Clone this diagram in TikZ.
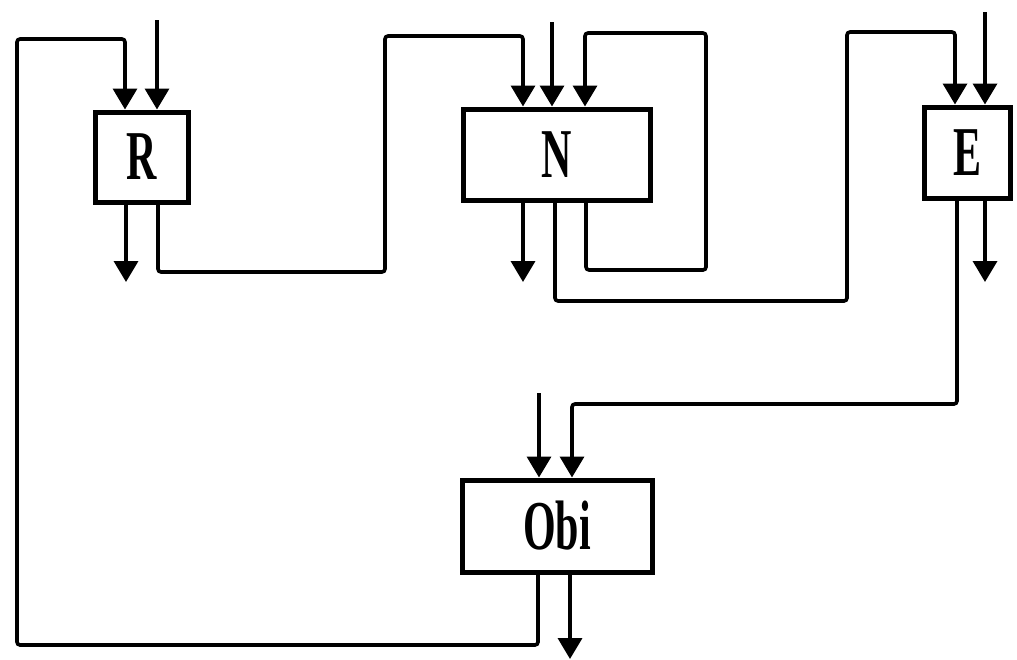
\documentclass[tikz,border=0pt]{standalone}
\usepackage{fontspec}
\usepackage{graphicx}
\setmainfont{Liberation Serif}
\usetikzlibrary{arrows.meta}
\tikzset{
  blk/.style={draw, line width=5pt, minimum width=#1, inner sep=0pt, font=\fontsize{70}{70}\selectfont\bfseries},
  wire/.style={line width=3.6pt, rounded corners=3pt},
  arr/.style={wire, -{Triangle[width=24pt,length=21pt]}}
}
\newcommand{\cond}[1]{\scalebox{0.6}[1]{#1}}
\begin{document}
\begin{tikzpicture}[x=1pt,y=-1pt]
\useasboundingbox (0,0) rectangle (1017,659);
\fill[white] (0,0) rectangle (1017,659);
% boxes
\node[blk=93pt, minimum height=90pt] (R) at (141.5,157) {\cond{R}};
\node[blk=187pt, minimum height=91pt] (N) at (556.5,154.5) {\cond{N}};
\node[blk=86pt, minimum height=91pt] (E) at (967,152.5) {\cond{E}};
\node[blk=190pt, minimum height=92pt] (O) at (557,526) {\cond{Obi}};
% free ends
\coordinate (Rin) at (157,20);
\coordinate (Rout) at (126,282);
\coordinate (Nin) at (552,22);
\coordinate (Nout) at (523,282);
\coordinate (Ein) at (985,12);
\coordinate (Eout) at (985,282);
\coordinate (Oin) at (539,393);
\coordinate (Oout) at (570,659);
% inputs / outputs
\draw[arr] (Rin) -- (Rin |- R.north);
\draw[arr] (Rout |- R.south) -- (Rout);
\draw[arr] (Nin) -- (Nin |- N.north);
\draw[arr] (Nout |- N.south) -- (Nout);
\draw[arr] (Ein) -- (Ein |- E.north);
\draw[arr] (Eout |- E.south) -- (Eout);
\draw[arr] (Oin) -- (Oin |- O.north);
\draw[arr] (Oout |- O.south) -- (Oout);
% feedback Obi -> R
\draw[arr] (O.south -| 538,0) -- (538,645) -- (17,645) -- (17,39) -- (125,39) -- (R.north -| 125,0);
% R -> N
\draw[arr] (R.south -| 158,0) -- (158,272) -- (385,272) -- (385,36) -- (523,36) -- (N.north -| 523,0);
% N self loop
\draw[arr] (N.south -| 586,0) -- (586,270) -- (706,270) -- (706,33) -- (585,33) -- (N.north -| 585,0);
% N -> E
\draw[arr] (N.south -| 555,0) -- (555,301) -- (847,301) -- (847,32) -- (955,32) -- (E.north -| 955,0);
% E -> Obi
\draw[arr] (E.south -| 957,0) -- (957,404) -- (572,404) -- (O.north -| 572,0);
\end{tikzpicture}
\end{document}
